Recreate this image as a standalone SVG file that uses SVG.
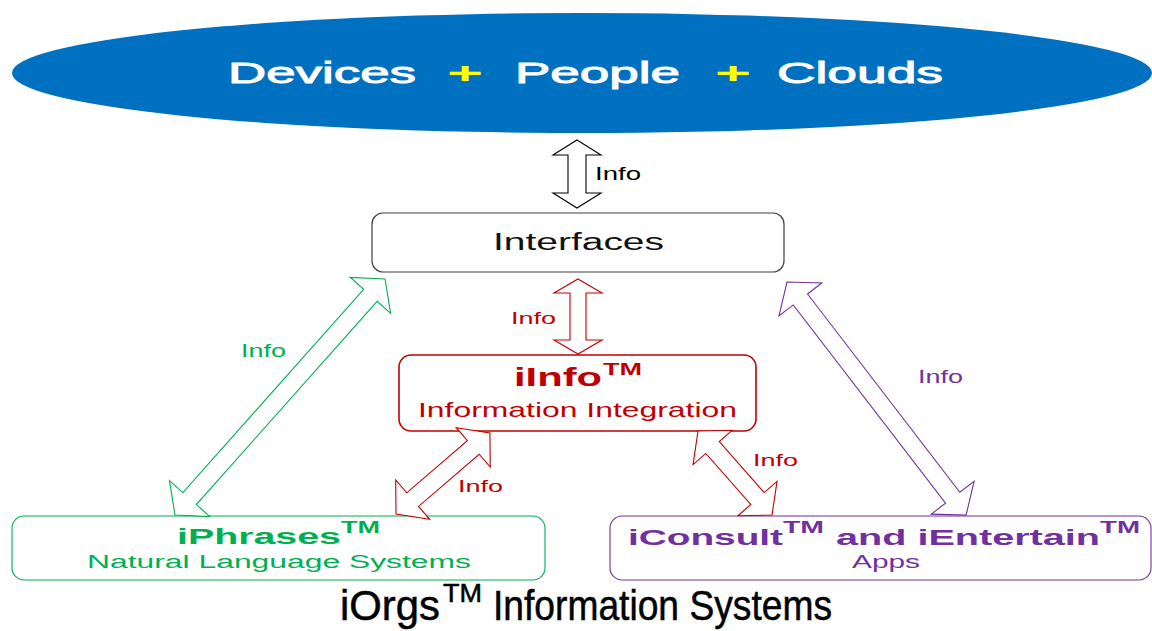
<svg xmlns="http://www.w3.org/2000/svg" width="1152" height="631" viewBox="0 0 1152 631">
<style>
text{font-family:"Liberation Sans",Arial,sans-serif}
.arr{fill:#fff;stroke-width:1.1;stroke-linejoin:miter}
.blk{stroke:#000}
.red{stroke:#C00000}
.grn{stroke:#00B050}
.pur{stroke:#7030A0}
.wt{fill:#fff;stroke:#fff;stroke-width:0.9}
.ttl{fill:#000;stroke:#000;stroke-width:0.5}
</style>
<rect width="1152" height="631" fill="#fff"/>
<g id="clouds">
<ellipse cx="582" cy="73" rx="570" ry="60" fill="#0070C0"/>
<text class="wt" x="228" y="83" font-size="29" textLength="188" lengthAdjust="spacingAndGlyphs">Devices</text>
<text x="447" y="83" font-size="30" font-weight="bold" fill="#FFFF00" textLength="36" lengthAdjust="spacingAndGlyphs">+</text>
<text class="wt" x="515" y="83" font-size="29" textLength="165" lengthAdjust="spacingAndGlyphs">People</text>
<text x="715" y="83" font-size="30" font-weight="bold" fill="#FFFF00" textLength="36" lengthAdjust="spacingAndGlyphs">+</text>
<text class="wt" x="777" y="83" font-size="29" textLength="166" lengthAdjust="spacingAndGlyphs">Clouds</text>
</g>
<g id="interfaces">
<rect x="372" y="213" width="412" height="59" rx="11" fill="#fff" stroke="#404040" stroke-width="1.2"/>
<text x="493" y="250" font-size="23.5" fill="#111" textLength="171" lengthAdjust="spacingAndGlyphs">Interfaces</text>
</g>
<g id="iinfo">
<rect x="399" y="355" width="357" height="76" rx="12" fill="#fff" stroke="#C00000" stroke-width="1.6"/>
<text x="514" y="386" font-size="26.5" font-weight="bold" fill="#C00000" textLength="88" lengthAdjust="spacingAndGlyphs">iInfo</text>
<text x="603" y="375" font-size="16" font-weight="bold" fill="#C00000" textLength="39" lengthAdjust="spacingAndGlyphs">TM</text>
<text x="418" y="417" font-size="21" fill="#C00000" textLength="319" lengthAdjust="spacingAndGlyphs">Information Integration</text>
</g>
<g id="iphrases">
<rect x="12" y="516" width="533" height="64" rx="12" fill="#fff" stroke="#00B050" stroke-width="1.1"/>
<text x="177" y="544" font-size="22" font-weight="bold" fill="#00B050" textLength="164" lengthAdjust="spacingAndGlyphs">iPhrases</text>
<text x="341" y="533" font-size="16" font-weight="bold" fill="#00B050" textLength="39" lengthAdjust="spacingAndGlyphs">TM</text>
<text x="87" y="568" font-size="18" fill="#00B050" textLength="384" lengthAdjust="spacingAndGlyphs">Natural Language Systems</text>
</g>
<g id="iconsult">
<rect x="610" y="516" width="541" height="64" rx="12" fill="#fff" stroke="#7030A0" stroke-width="1.1"/>
<text x="628" y="545" font-size="22" font-weight="bold" fill="#7030A0" textLength="155" lengthAdjust="spacingAndGlyphs">iConsult</text>
<text x="783" y="533" font-size="16" font-weight="bold" fill="#7030A0" textLength="41" lengthAdjust="spacingAndGlyphs">TM</text>
<text x="836" y="545" font-size="22" font-weight="bold" fill="#7030A0" textLength="264" lengthAdjust="spacingAndGlyphs">and iEntertain</text>
<text x="1100" y="533" font-size="16" font-weight="bold" fill="#7030A0" textLength="40" lengthAdjust="spacingAndGlyphs">TM</text>
<text x="852" y="568" font-size="18" fill="#7030A0" textLength="68" lengthAdjust="spacingAndGlyphs">Apps</text>
</g>
<g id="title">
<text class="ttl" x="340" y="620" font-size="42" textLength="100" lengthAdjust="spacingAndGlyphs">iOrgs</text>
<text class="ttl" x="443" y="602" font-size="25" textLength="39" lengthAdjust="spacingAndGlyphs">TM</text>
<text class="ttl" x="493" y="620" font-size="42" textLength="339" lengthAdjust="spacingAndGlyphs">Information Systems</text>
</g>
<g id="connectors">
<path class="arr blk" transform="translate(577,140) rotate(90)" d="M0,0 L15,-24 L15,-9 L53,-9 L53,-24 L68,0 L53,24 L53,9 L15,9 L15,24 Z"/>
<text x="595" y="180" font-size="19" fill="#000" textLength="46" lengthAdjust="spacingAndGlyphs">Info</text>
<path class="arr red" transform="translate(578,279) rotate(90)" d="M0,0 L14,-24 L14,-8 L61,-8 L61,-24 L75,0 L61,24 L61,8 L14,8 L14,24 Z"/>
<text x="511" y="324" font-size="17" fill="#C00000" textLength="45" lengthAdjust="spacingAndGlyphs">Info</text>
<path class="arr grn" transform="translate(175,515) rotate(-48.34)" d="M0,0 L22,-27 L22,-9 L294,-9 L294,-27 L316,0 L294,27 L294,9 L22,9 L22,27 Z"/>
<text x="241" y="357" font-size="18" fill="#00B050" textLength="45" lengthAdjust="spacingAndGlyphs">Info</text>
<path class="arr pur" transform="translate(787,282) rotate(52.47)" d="M0,0 L22,-27 L22,-9 L272,-9 L272,-27 L294,0 L272,27 L272,9 L22,9 L22,27 Z"/>
<text x="918" y="383" font-size="18" fill="#7030A0" textLength="45" lengthAdjust="spacingAndGlyphs">Info</text>
<path class="arr red" transform="translate(396,514) rotate(-40.75)" d="M0,0 L22,-26 L22,-9 L102,-9 L102,-26 L124,0 L102,26 L102,9 L22,9 L22,26 Z"/>
<text x="458" y="492" font-size="17" fill="#C00000" textLength="45" lengthAdjust="spacingAndGlyphs">Info</text>
<path class="arr red" transform="translate(698,431) rotate(48.62)" d="M0,0 L22,-26 L22,-9 L90,-9 L90,-26 L112,0 L90,26 L90,9 L22,9 L22,26 Z"/>
<text x="753" y="466" font-size="17" fill="#C00000" textLength="45" lengthAdjust="spacingAndGlyphs">Info</text>
</g>
</svg>
